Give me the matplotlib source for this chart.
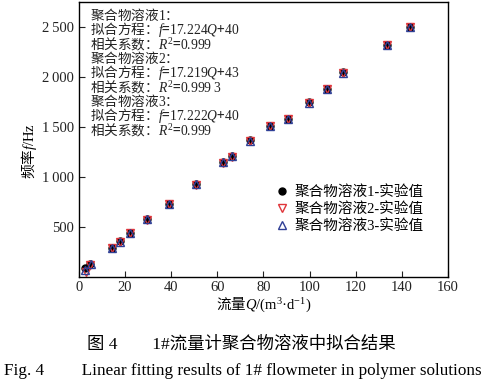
import matplotlib
matplotlib.use("Agg")
import matplotlib.pyplot as plt

plt.rcParams['font.family'] = ['Liberation Serif', 'Noto Sans CJK SC']
plt.rcParams['mathtext.fontset'] = 'custom'
plt.rcParams['mathtext.rm'] = 'Liberation Serif'
plt.rcParams['mathtext.it'] = 'Liberation Serif:italic'
plt.rcParams['axes.unicode_minus'] = False

# flow rate Q (m3/d) and frequency f (Hz)
q1 = [2.5, 5.0, 14.2, 18.0, 22.4, 29.5, 39.3, 50.7, 62.3, 66.5, 74.2, 82.8, 90.7, 99.8, 107.4, 114.5, 133.6, 143.7]
f1 = [82, 126, 286, 352, 440, 573, 731, 923, 1144, 1206, 1363, 1510, 1582, 1743, 1878, 2044, 2320, 2501]
q2 = [3.0, 5.0, 14.2, 18.0, 22.4, 29.5, 39.3, 50.7, 62.3, 66.5, 74.2, 82.8, 90.7, 99.8, 107.4, 114.5, 133.6, 143.7]
f2 = [50, 120, 282, 348, 436, 568, 726, 918, 1140, 1202, 1358, 1506, 1578, 1739, 1874, 2040, 2315, 2497]
q3 = [2.9, 5.1, 14.2, 18.0, 22.4, 29.5, 39.3, 50.7, 62.3, 66.5, 74.2, 82.8, 90.7, 99.8, 107.4, 114.5, 133.6, 143.7]
f3 = [62, 127, 285, 351, 439, 572, 730, 922, 1143, 1205, 1362, 1510, 1581, 1742, 1877, 2043, 2319, 2500]

labels = ['聚合物溶液1-实验值', '聚合物溶液2-实验值', '聚合物溶液3-实验值']
# CJK outside math (Noto), numbers inside math (Liberation Serif)
fit_lines = [
    '聚合物溶液$\\mathrm{1}$：',
    '拟合方程：$f$=$\\mathrm{17.224}Q$+$\\mathrm{40}$',
    '相关系数：$R^2$=$\\mathrm{0.999}$',
    '聚合物溶液$\\mathrm{2}$：',
    '拟合方程：$f$=$\\mathrm{17.219}Q$+$\\mathrm{43}$',
    '相关系数：$R^2$=$\\mathrm{0.999\\ 3}$',
    '聚合物溶液$\\mathrm{3}$：',
    '拟合方程：$f$=$\\mathrm{17.222}Q$+$\\mathrm{40}$',
    '相关系数：$R^2$=$\\mathrm{0.999}$',
]
xticks = [0, 20, 40, 60, 80, 100, 120, 140, 160]
yticks = [500, 1000, 1500, 2000, 2500]
ytick_labels = ['500', '1\u2009000', '1\u2009500', '2\u2009000', '2\u2009500']

cjk = 'Noto Sans CJK SC'

fig = plt.figure(figsize=(4.86, 3.82), dpi=100)
ax = fig.add_axes([0.162, 0.276, 0.76, 0.719])

ax.plot(q1, f1, 'o', color='black', ms=5, label=labels[0])
ax.plot(q2, f2, 'v', mfc='none', mec='#e0353a', mew=1.0, ms=6, label=labels[1])
ax.plot(q3, f3, '^', mfc='none', mec='#2f3f96', mew=1.0, ms=6, label=labels[2])

ax.set_xlim(0, 160)
ax.set_ylim(0, 2750)
ax.set_xticks(xticks)
ax.set_yticks(yticks)
ax.set_yticklabels(ytick_labels)
ax.tick_params(direction='in', length=4, width=0.8, labelsize=10.5, colors='#222222')
for s in ax.spines.values():
    s.set_linewidth(1.0)

ax.set_xlabel('流量$Q\\mathrm{/(m^3·d^{-1})}$', family=cjk, fontsize=10.5, labelpad=1)
ax.set_ylabel('频率$f\\mathrm{/Hz}$', family=cjk, fontsize=10.5)
ax.yaxis.set_label_coords(-0.107, 0.457)

ax.text(0.03, 0.983, '\n'.join(fit_lines), transform=ax.transAxes, family=cjk,
        fontsize=9.8, va='top', ha='left', color='#222222', linespacing=0.785)

ax.legend(loc='upper left', bbox_to_anchor=(0.50, 0.37), frameon=False,
          fontsize=10.5, handletextpad=0.2, handlelength=1.2,
          labelspacing=0.22, borderpad=0.2)

fig.text(0.497, 1 - 345 / 382, '图 4\u3000\u30001#流量计聚合物溶液中拟合结果',
         ha='center', va='center', fontsize=12.5)
fig.text(0.5, 1 - 371 / 382, 'Fig. 4\u2003\u2003\u2009Linear fitting results of 1# flowmeter in polymer solutions',
         ha='center', va='center', fontsize=12.3)

fig.savefig('out.png', dpi=100)
